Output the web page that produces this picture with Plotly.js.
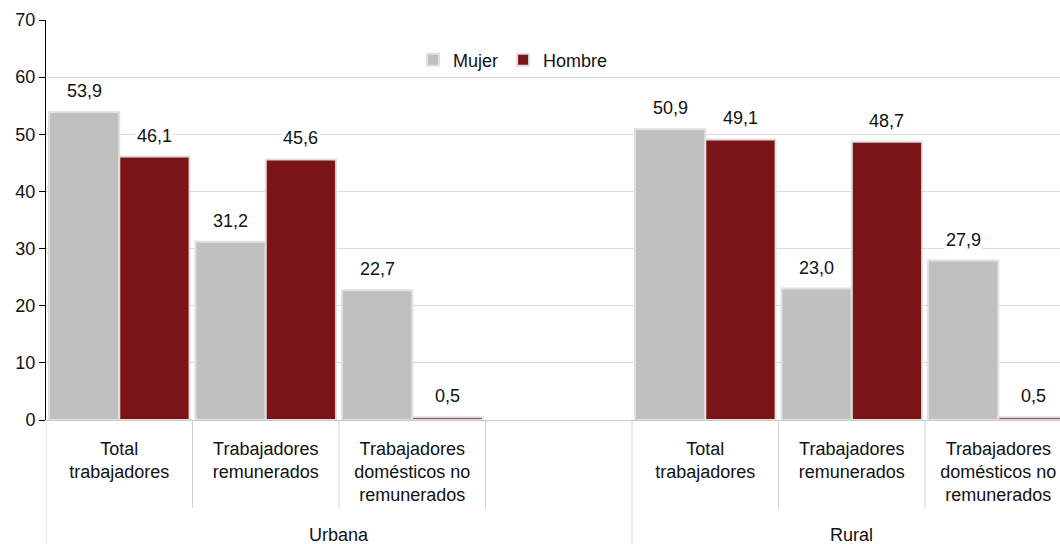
<!DOCTYPE html>
<html>
<head>
<meta charset="utf-8">
<script src="https://cdn.plot.ly/plotly-3.0.1.min.js"></script>
<style>html,body{margin:0;padding:0;background:#fff;}#chart{width:1060px;height:544px;}</style>
</head>
<body>
<div id="chart"></div>
<script>
// Category slots (one empty slot separates the two groups)
const slotIds = ['U1', 'U2', 'U3', 'U4', 'R1', 'R2', 'R3'];
const slotLabels = [
  'Total<br>trabajadores',
  'Trabajadores<br>remunerados',
  'Trabajadores<br>domésticos no<br>remunerados',
  '',
  'Total<br>trabajadores',
  'Trabajadores<br>remunerados',
  'Trabajadores<br>domésticos no<br>remunerados'
];
const groupNames = ['Urbana', 'Rural'];
const groupCenters = [1.5, 5];       // category-index centre of each group
const groupBoundaries = [-0.5, 3.5]; // group start boundaries
const innerBoundaries = [0.5, 1.5, 2.5, 4.5, 5.5];

const mujer  = [53.9, 31.2, 22.7, null, 50.9, 23.0, 27.9];
const hombre = [46.1, 45.6, 0.5, null, 49.1, 48.7, 0.5];
const yTicks = [0, 10, 20, 30, 40, 50, 60, 70];

const FONT = '"Liberation Sans", Arial, Helvetica, sans-serif';
const fmt = v => v.toFixed(1).replace('.', ',');

const traces = [
  { type: 'bar', name: 'Mujer', x: slotIds, y: mujer,
    marker: { color: '#c0c0c0', line: { color: '#e0e0e0', width: 2 } }, hoverinfo: 'skip' },
  { type: 'bar', name: 'Hombre', x: slotIds, y: hombre,
    marker: { color: '#7b1416', line: { color: '#e0e0e0', width: 2 } }, hoverinfo: 'skip' }
];

const annotations = [];
[[mujer, -35], [hombre, 35]].forEach(([arr, dx]) => {
  arr.forEach((v, i) => {
    if (v === null) return;
    annotations.push({ x: slotIds[i], y: v, xref: 'x', yref: 'y', text: fmt(v),
      showarrow: false, xshift: dx, yshift: 21, yanchor: 'middle',
      bgcolor: '#ffffff', font: { size: 18, family: FONT, color: '#111' } });
  });
});
groupNames.forEach((g, i) => {
  annotations.push({ x: groupCenters[i], y: -0.2875, xref: 'x', yref: 'paper', text: g,
    showarrow: false, yanchor: 'middle', font: { size: 18, family: FONT, color: '#111' } });
});

const shapes = [];
innerBoundaries.forEach(b => shapes.push({ type: 'line', xref: 'x', yref: 'paper',
  x0: b, x1: b, y0: 0, y1: -0.22, line: { color: '#d0d0d0', width: 1 } }));
groupBoundaries.forEach(b => shapes.push({ type: 'line', xref: 'x', yref: 'paper',
  x0: b, x1: b, y0: 0, y1: -0.32, line: { color: '#d0d0d0', width: 1 } }));

const layout = {
  width: 1060, height: 544,
  margin: { l: 46, r: 0, t: 20, b: 124 },
  paper_bgcolor: '#ffffff', plot_bgcolor: '#ffffff',
  font: { family: FONT, size: 18, color: '#111' },
  barmode: 'group', bargap: 0.04, bargroupgap: 0,
  showlegend: true,
  legend: { orientation: 'h', x: 0.362, xanchor: 'left', y: 0.9, yanchor: 'middle',
    font: { size: 18, family: FONT, color: '#111' }, bgcolor: 'rgba(0,0,0,0)', traceorder: 'normal' },
  xaxis: {
    type: 'category', categoryorder: 'array', categoryarray: slotIds,
    tickvals: slotIds, ticktext: slotLabels,
    range: [-0.5, 6.421], fixedrange: true,
    showline: true, linecolor: '#c8c8c8', linewidth: 1,
    ticks: '', showgrid: false, zeroline: false,
    ticklabelstandoff: 12,
    tickfont: { size: 18, family: FONT, color: '#111' }
  },
  yaxis: {
    range: [0, 70], tickvals: yTicks, ticktext: yTicks.map(String),
    showgrid: true, gridcolor: '#dcdcdc', gridwidth: 1,
    showline: true, linecolor: '#000', linewidth: 1,
    ticks: 'outside', ticklen: 6, tickcolor: '#000', zeroline: false,
    tickfont: { size: 18, family: FONT, color: '#111' }
  },
  annotations: annotations,
  shapes: shapes
};

Plotly.newPlot('chart', traces, layout, { staticPlot: true, displayModeBar: false });
</script>
</body>
</html>
